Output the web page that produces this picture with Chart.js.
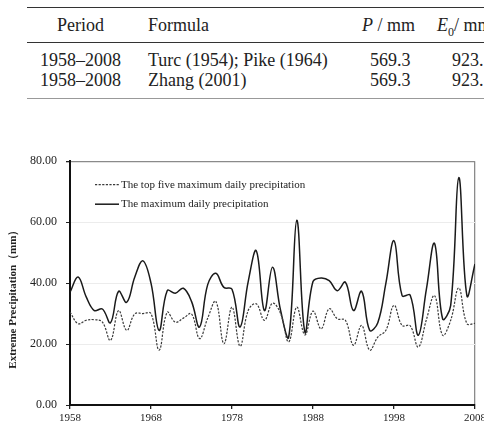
<!DOCTYPE html>
<html>
<head>
<meta charset="utf-8">
<script src="https://cdn.jsdelivr.net/npm/chart.js@4"></script>
<style>
  html, body { margin: 0; padding: 0; background: #fff; }
  #page { position: relative; width: 484px; height: 427px; overflow: hidden; background: #fff; }
  .t { position: absolute; font-family: "Liberation Serif", "Times New Roman", serif; font-size: 18px; line-height: 18px; color: #222; white-space: nowrap; }
  .rule { position: absolute; left: 27px; width: 480px; }
  #chartBox { position: absolute; left: 0; top: 145px; width: 489px; height: 282px; }
</style>
</head>
<body>
<div id="page">
  <div class="rule" style="top:6.5px;height:1.5px;background:#333;"></div>
  <div class="t" style="left:57px;top:15.5px;">Period</div>
  <div class="t" style="left:148px;top:15.5px;">Formula</div>
  <div class="t" style="left:362px;top:15.5px;"><i>P</i> / mm</div>
  <div class="t" style="left:437px;top:15.5px;"><i>E</i><sub style="font-size:12px;line-height:0;">0</sub>/ mm</div>
  <div class="rule" style="top:41.5px;height:1.5px;background:#333;"></div>
  <div class="t" style="left:40px;top:50.5px;">1958–2008</div>
  <div class="t" style="left:148px;top:50.5px;">Turc (1954); Pike (1964)</div>
  <div class="t" style="left:370px;top:50.5px;">569.3</div>
  <div class="t" style="left:452px;top:50.5px;">923.1</div>
  <div class="t" style="left:40px;top:71px;">1958–2008</div>
  <div class="t" style="left:148px;top:71px;">Zhang (2001)</div>
  <div class="t" style="left:370px;top:71px;">569.3</div>
  <div class="t" style="left:452px;top:71px;">923.1</div>
  <div class="rule" style="top:97.5px;height:1.5px;background:#999;"></div>
  <div id="chartBox"><canvas id="c"></canvas></div>
</div>
<script>
const years = [1958,1959,1960,1961,1962,1963,1964,1965,1966,1967,
               1968,1969,1970,1971,1972,1973,1974,1975,1976,1977,
               1978,1979,1980,1981,1982,1983,1984,1985,1986,1987,
               1988,1989,1990,1991,1992,1993,1994,1995,1996,1997,
               1998,1999,2000,2001,2002,2003,2004,2005,2006,2007,2008];
const topFiveMax = [30.5,26.7,27.8,28,27.2,21.2,31,24.5,29.9,30,
                    30,18,30.4,27.2,28.5,29.9,21.8,28.5,34,20.1,
                    32.1,19.3,31,33.2,27.8,33.4,30,20.7,32.1,23,
                    30.8,25,31.6,28.3,27.8,19.6,26.1,18,22.3,24.5,
                    32.7,26.1,26,19,28,35.9,22.9,27.8,38.4,26.7,26.8];
const maxDaily = [37,42,35.5,31,31.5,27,37.3,33.7,42,47.3,
                  40,24.5,37.5,36.7,38.3,34,25.6,39.5,43.2,38.6,
                  38,25.6,40.5,50.6,31,45.2,31,22.3,60.6,23.9,
                  40.5,41.7,40.8,37.5,40.3,31,37.3,24.5,27,40,
                  53.9,35.9,36,22.9,38,53,28.3,32.7,74.6,35.9,46.3];
const seriesNames = ['The top five maximum daily precipitation', 'The maximum daily precipitation'];
const yTicks = [0, 20, 40, 60, 80];
const xTicks = [1958, 1968, 1978, 1988, 1998, 2008];
const yTitle = 'Extreme Precipitation\uFF08mm\uFF09';

const serif = '"Liberation Serif", "Times New Roman", serif';

const insideLegend = {
  id: 'insideLegend',
  afterDatasetsDraw(chart) {
    const ctx = chart.ctx, a = chart.chartArea;
    ctx.save();
    chart.data.datasets.forEach((ds, i) => {
      const y = a.top + 23.5 + i * 19.5;
      const x0 = a.left + 25, x1 = a.left + 49;
      ctx.beginPath();
      ctx.setLineDash(ds.borderDash || []);
      ctx.strokeStyle = ds.borderColor;
      ctx.lineWidth = ds.borderWidth;
      ctx.moveTo(x0, y); ctx.lineTo(x1, y);
      ctx.stroke();
      ctx.setLineDash([]);
      ctx.fillStyle = '#222';
      ctx.font = '11px ' + serif;
      ctx.textBaseline = 'middle';
      ctx.textAlign = 'left';
      ctx.fillText(ds.label, x1 + 2, y);
    });
    ctx.restore();
  }
};
const yTitlePlugin = {
  id: 'yTitlePlugin',
  afterDraw(chart) {
    const ctx = chart.ctx, a = chart.chartArea;
    ctx.save();
    ctx.translate(13, (a.top + a.bottom) / 2 + 13.5);
    ctx.rotate(-Math.PI / 2);
    ctx.font = 'bold 11px ' + serif;
    ctx.fillStyle = '#222';
    ctx.textAlign = 'center';
    ctx.textBaseline = 'middle';
    ctx.fillText(yTitle, 0, 0);
    ctx.restore();
  }
};

new Chart(document.getElementById('c'), {
  type: 'line',
  data: {
    datasets: [
      {
        label: seriesNames[0],
        data: years.map((y, i) => ({x: y, y: topFiveMax[i]})),
        borderColor: '#3a3a3a',
        borderWidth: 1.2,
        borderDash: [2.2, 1.4],
        pointRadius: 0,
        tension: 0.4,
        fill: false
      },
      {
        label: seriesNames[1],
        data: years.map((y, i) => ({x: y, y: maxDaily[i]})),
        borderColor: '#1a1a1a',
        borderWidth: 1.5,
        pointRadius: 0,
        tension: 0.4,
        fill: false
      }
    ]
  },
  options: {
    responsive: true,
    maintainAspectRatio: false,
    animation: false,
    devicePixelRatio: 1,
    layout: { padding: { top: 15, right: 12, left: 0, bottom: 0 } },
    plugins: { legend: { display: false }, tooltip: { enabled: false } },
    scales: {
      x: {
        type: 'linear',
        min: 1958, max: 2008,
        afterFit(scale) { scale.height = 22; },
        afterBuildTicks(scale) { scale.ticks = xTicks.map(v => ({value: v})); },
        ticks: {
          callback: v => String(v),
          font: { family: serif, size: 11 },
          color: '#222',
          padding: 3,
          maxRotation: 0,
          autoSkip: false
        },
        grid: {
          color: c => (c.tick && c.tick.value === 2008) ? '#8a8a8a' : 'rgba(0,0,0,0)',
          lineWidth: 1.3,
          tickColor: '#222',
          tickLength: 4,
          drawTicks: true
        },
        border: { display: true, color: '#111', width: 2 }
      },
      y: {
        min: 0, max: 80,
        afterFit(scale) { scale.width = 70; },
        afterBuildTicks(scale) { scale.ticks = yTicks.map(v => ({value: v})); },
        ticks: {
          callback: v => Number(v).toFixed(2),
          font: { family: serif, size: 12 },
          color: '#222',
          padding: 9
        },
        grid: {
          color: c => {
            const v = c.tick ? c.tick.value : null;
            if (v === 80) return '#8a8a8a';
            if (v === 0) return 'rgba(0,0,0,0)';
            return '#ececec';
          },
          lineWidth: c => (c.tick && c.tick.value === 80) ? 1.3 : 1,
          tickColor: '#222',
          tickLength: 4
        },
        border: { display: true, color: '#111', width: 2 }
      }
    }
  },
  plugins: [insideLegend, yTitlePlugin]
});
</script>
</body>
</html>
